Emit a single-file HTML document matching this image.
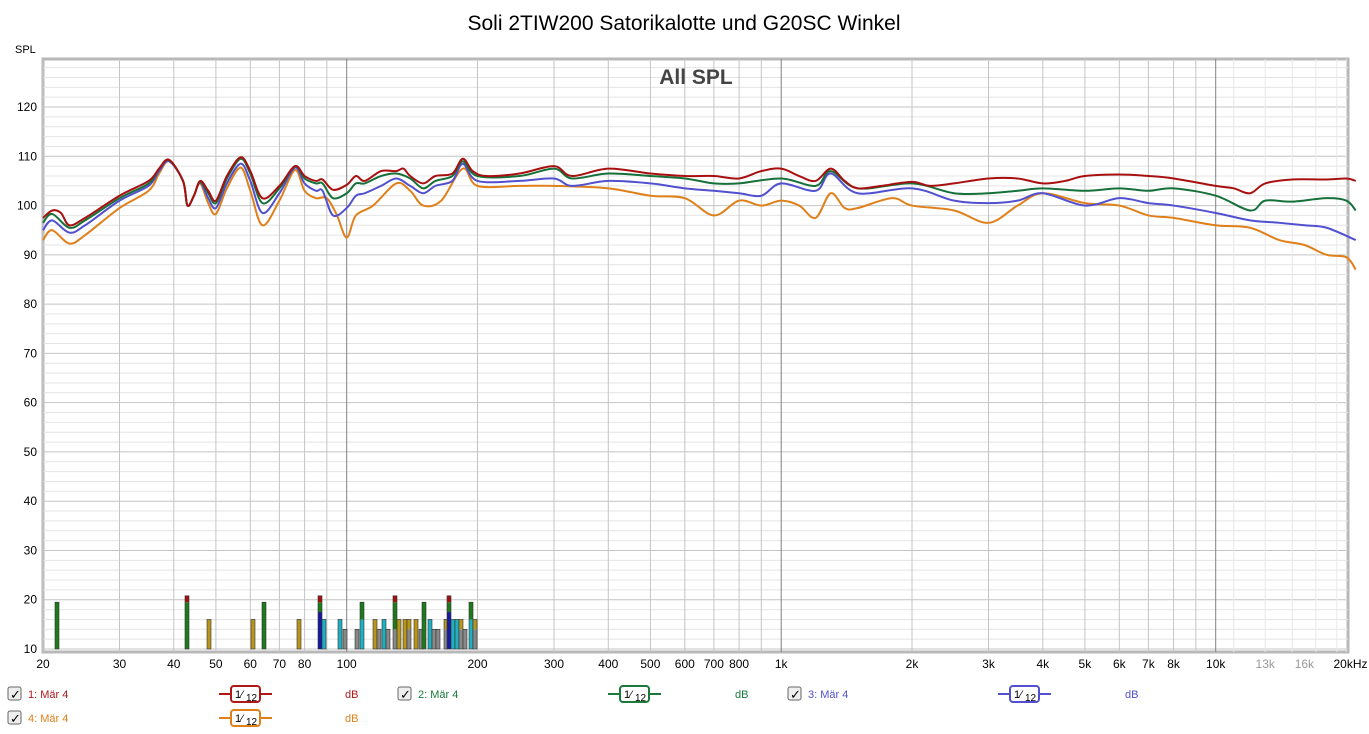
<!DOCTYPE html>
<html><head><meta charset="utf-8"><style>
body{margin:0;background:#fff;width:1369px;height:734px;overflow:hidden;font-family:"Liberation Sans",sans-serif}
svg{position:absolute;left:0;top:0}
</style></head><body>
<svg id="s" width="1369" height="734" xmlns="http://www.w3.org/2000/svg" font-family="Liberation Sans, sans-serif"></svg>
<script>
const L=43,R=1348,T=59,B=652;
const X=f=>43+434.5*Math.log10(f/20);
const Y=d=>649-(d-10)*4.927;
let h='';
h+=`<text x="684" y="30" font-size="21" text-anchor="middle" fill="#000">Soli 2TIW200 Satorikalotte und G20SC Winkel</text>`;
h+=`<text x="15" y="53" font-size="11" fill="#000">SPL</text>`;
h+=`<rect x="${L}" y="${T}" width="${R-L}" height="${B-T}" fill="#fff" stroke="#b8b8b8" stroke-width="3"/>`;
for(let d=10;d<=128;d+=2){const y=Y(d);if(y<T+1)continue;h+=`<line x1="${L}" x2="${R}" y1="${y}" y2="${y}" stroke="${d%10==0?'#c4c4c4':'#e4e4e4'}" stroke-width="1"/>`;}
for(let d=10;d<=120;d+=10){h+=`<text x="37" y="${Y(d)+4}" font-size="12" text-anchor="end" fill="#000">${d}</text>`;}
for(const dec of [10,100,1000,10000]){for(let k=1;k<10;k++){const f=dec*k;if(f<20||f>20000)continue;let c=(k==1)?'#808080':'#c4c4c4';if(f>10000)c='#dedede';h+=`<line x1="${X(f)}" x2="${X(f)}" y1="${T}" y2="${B}" stroke="${c}"/>`;}}
for(let f=11000;f<20000;f+=1000){if(f%2000==0)continue;h+=`<line x1="${X(f)}" x2="${X(f)}" y1="${T}" y2="${B}" stroke="#e8e8e8"/>`;}
const lab=[[20,'20'],[30,'30'],[40,'40'],[50,'50'],[60,'60'],[70,'70'],[80,'80'],[100,'100'],[200,'200'],[300,'300'],[400,'400'],[500,'500'],[600,'600'],[700,'700'],[800,'800'],[1000,'1k'],[2000,'2k'],[3000,'3k'],[4000,'4k'],[5000,'5k'],[6000,'6k'],[7000,'7k'],[8000,'8k'],[10000,'10k'],[13000,'13k','#999'],[16000,'16k','#999'],[20000,'20kHz']];
for(const [f,t,c] of lab){h+=`<text x="${X(f)+(f==20000?4:0)}" y="668" font-size="12" text-anchor="middle" fill="${c||'#000'}">${t}</text>`;}
h+=`<text x="696" y="84" font-size="21" font-weight="bold" text-anchor="middle" fill="#444">All SPL</text>`;
const bars=[[55,'#1d7a1d',19.5],[185,'#1d7a1d',19.5,'#a01010',20.8],[207,'#b8961a',16],[251,'#b8961a',16],[262,'#1d7a1d',19.5],[297,'#b8961a',16],
[318,'#1a1aa0',17.5,'#1d7a1d',19.5,'#a01010',20.8],[322,'#20b0c0',16],[338,'#20b0c0',16],[343,'#888',14],[355,'#888',14],[360,'#20b0c0',16,'#1d7a1d',19.5],[373,'#b8961a',16],[377,'#888',14],[382,'#20b0c0',16],[386,'#888',14],
[393,'#888',14,'#1d7a1d',19.5,'#a01010',20.8],[397,'#b8961a',16],[403,'#b8961a',16],[407,'#888',14,'#b8961a',16],[414,'#b8961a',16],[419,'#888',14],[422,'#1d7a1d',19.5],[428,'#20b0c0',16],[432,'#888',14],[436,'#888',14],
[444,'#888',14,'#b8961a',16],[447,'#1a1aa0',17.5,'#1d7a1d',19.5,'#a01010',20.8],[451,'#20b0c0',16],[455,'#20b0c0',16],[459,'#888',14,'#b8961a',16],[463,'#888',14],[469,'#20b0c0',16,'#1d7a1d',19.5],[473,'#888',14,'#b8961a',16]];
for(const b of bars){const x=b[0];let prev=10;for(let i=1;i<b.length;i+=2){const c=b[i],v=b[i+1];h+=`<rect x="${x}" y="${Y(v)}" width="4" height="${Y(prev)-Y(v)}" fill="${c}"/>`;prev=v;}h+=`<rect x="${x}" y="${Y(b[b.length-1])}" width="4" height="${Y(10)-Y(b[b.length-1])}" fill="none" stroke="#333" stroke-width="0.6"/>`;}
function path(d){const p=d.map(([f,v])=>[X(f),Y(v)]);let s=`M${p[0][0]},${p[0][1]}`;for(let i=0;i<p.length-1;i++){const p0=p[i-1]||p[i],p1=p[i],p2=p[i+1],p3=p[i+2]||p2;const c1=[p1[0]+(p2[0]-p0[0])/6,p1[1]+(p2[1]-p0[1])/6],c2=[p2[0]-(p3[0]-p1[0])/6,p2[1]-(p3[1]-p1[1])/6];s+=`C${c1[0]},${c1[1]} ${c2[0]},${c2[1]} ${p2[0]},${p2[1]}`;}return s;}
// remap low-frequency features slightly
const fm={38:37,40:39,55:53,59:57,62:60,66:64};
const mp=d=>d.map(([f,v])=>[fm[f]||f,v]);
const red=mp([[20,97.5],[21,99],[22,98.5],[23,96],[25,97.5],[30,102],[35,105],[38,107.5],[40,109.3],[42,105],[43,100],[44.5,102],[46,105],[48,103],[50,101],[55,106],[59,109.8],[62,107],[66,101.5],[70,104],[76,108],[80,106],[85,105],[88,105.3],[93,103.2],[100,104.2],[105,106],[110,105],[120,107],[130,107],[135,107.5],[140,106],[150,104.5],[160,106],[175,106.5],[185,109.5],[195,107],[210,106],[250,106.5],[300,108],[330,106],[400,107.5],[500,106.5],[600,106],[700,106],[800,105.5],[900,107],[1000,107.5],[1100,106],[1200,105],[1300,107.5],[1400,105],[1500,103.5],[1700,104],[2000,104.8],[2200,104],[2500,104.5],[3000,105.5],[3500,105.5],[4000,104.5],[4500,105],[5000,106],[6000,106.3],[7000,106],[8000,105.5],[10000,104],[11000,103.5],[12000,102.5],[13000,104.5],[15000,105.3],[18000,105.3],[20000,105.5],[21000,105]]);
const green=mp([[20,96.5],[21,98.3],[23,95.5],[25,97],[30,101.5],[35,104.5],[38,107.5],[40,109.2],[42,105],[43,100],[44.5,102],[46,104.8],[48,102.5],[50,100.5],[55,105.5],[59,109.5],[62,106.5],[66,100.5],[70,103.5],[76,108],[80,105.5],[85,104.5],[88,104.5],[93,101.5],[100,102.5],[105,104.5],[110,104.5],[120,106],[130,106.5],[140,105.5],[150,103.5],[160,105],[175,106],[185,109],[200,106],[250,106],[300,107.5],[330,105.5],[400,106.5],[500,106],[600,105.5],[700,104.5],[800,104.5],[1000,105.5],[1200,104],[1300,107],[1500,103.5],[2000,104.5],[2500,102.5],[3000,102.5],[3500,103],[4000,103.5],[5000,103],[6000,103.5],[7000,103],[8000,103.5],[10000,102],[12000,99],[13000,101],[15000,100.8],[18000,101.5],[20000,101],[21000,99]]);
const blue=mp([[20,95],[21,97],[23,94.5],[25,96],[30,101],[35,104],[38,107],[40,109],[42,105],[43,100],[44.5,102],[46,104.7],[48,101.5],[50,99.5],[55,104.5],[59,108.5],[62,105],[66,98.5],[70,102.5],[76,107.7],[80,104.5],[85,103],[88,103],[93,98],[100,99.5],[105,102],[110,102.5],[120,104],[130,105.5],[140,104],[150,102.5],[160,104],[175,105],[185,108.5],[200,105],[250,105],[300,105.5],[330,104],[400,105],[500,104.5],[600,103.5],[700,103],[800,102.5],[900,102],[1000,104.5],[1200,103],[1300,106.5],[1500,102.5],[2000,103.5],[2500,101],[3000,100.5],[3500,101],[4000,102.5],[5000,100],[6000,101.5],[7000,100.5],[8000,100],[10000,98.5],[12000,97],[14000,96.5],[16000,96],[18000,95.5],[21000,93]]);
const orange=mp([[20,93],[21,95],[23,92.3],[25,94],[30,99.5],[35,103],[38,106.5],[40,109],[42,105],[43,100],[44.5,102],[46,104.5],[48,100.5],[50,98.3],[55,103.5],[59,107.7],[62,103],[66,96],[70,101],[76,107.2],[80,103],[85,101.5],[90,101.5],[95,98],[100,93.5],[105,98],[115,100],[130,104.5],[140,103],[150,100],[165,101],[185,107.5],[200,104],[250,104],[300,104],[400,103.5],[500,102],[600,101.5],[700,98],[800,101],[900,100],[1000,101],[1100,100],[1200,97.5],[1300,102.5],[1400,99.5],[1500,99.5],[1800,101.5],[2000,100],[2500,99],[3000,96.5],[3500,100],[4000,102.5],[5000,100.5],[6000,100],[7000,98],[8000,97.5],[10000,96],[12000,95.5],[14000,93],[16000,92],[18000,90],[20000,89.5],[21000,87]]);
for(const [d,c] of [[orange,'#e0801a'],[blue,'#5050d0'],[green,'#16703a'],[red,'#a81010']]){h+=`<path d="${path(d)}" fill="none" stroke="${c}" stroke-width="2"/>`;}
function leg(x,y,lab,c,px,dx){let s=`<rect x="${x}" y="${y-7}" width="13" height="13" fill="#eee" stroke="#666" rx="2"/><text x="${x+2}" y="${y+5}" font-size="13" fill="#000">✓</text><text x="${x+20}" y="${y+4}" font-size="11" fill="${c}">${lab}</text>`;
s+=`<line x1="${px}" x2="${px+53}" y1="${y}" y2="${y}" stroke="${c}" stroke-width="2"/><rect x="${px+12}" y="${y-8}" width="29" height="16" rx="3" fill="#fff" stroke="${c}" stroke-width="2"/><text x="${px+16}" y="${y+4}" font-size="11" fill="#000">1⁄</text><text x="${px+27}" y="${y+7}" font-size="10" fill="#000">12</text>`;
s+=`<text x="${dx}" y="${y+4}" font-size="11" fill="${c}">dB</text>`;return s;}
h+=leg(8,694,'1: Mär 4','#b01818',219,345);
h+=leg(398,694,'2: Mär 4','#1a7a3a',608,735);
h+=leg(788,694,'3: Mär 4','#5050d0',998,1125);
h+=leg(8,718,'4: Mär 4','#e0801a',219,345);
document.getElementById('s').innerHTML=h;
</script>
</body></html>
